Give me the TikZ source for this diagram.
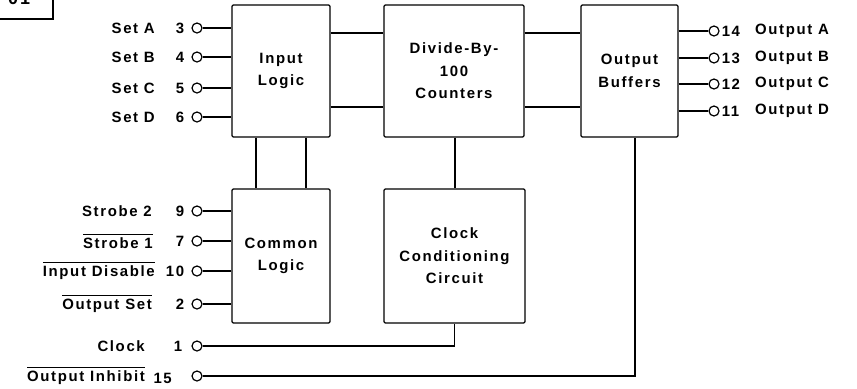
\documentclass[tikz,border=0pt]{standalone}
\usepackage{fontspec}
\setmainfont{Liberation Sans}[LetterSpace=11]
\newcommand\lbfont{\bfseries\fontsize{15}{22.5}\selectfont}
\newcommand\ovl[1]{\setbox0\hbox{#1}\rlap{\rule[14pt]{\wd0}{0.9pt}}\box0}
\begin{document}
\begin{tikzpicture}[x=1bp,y=-1bp,
  blk/.style={draw, line width=1.3bp, rounded corners=1.2bp, font=\lbfont, align=center, inner sep=0pt},
  pin/.style={circle, draw, line width=1.2bp, inner sep=0pt, minimum size=10bp},
  wire/.style={line width=1.3bp},
  lbl/.style={font=\lbfont, inner sep=0pt, anchor=east},
  rlbl/.style={font=\lbfont, inner sep=0pt, anchor=west}]
\useasboundingbox (0,0) rectangle (857,388);
% partial box at top left
\draw[wire] (-5,-5) rectangle (53,19);
\node[font=\bfseries\fontsize{18}{20}\selectfont, inner sep=0pt, anchor=base west] (tag) at (8,4) {01};
% blocks
\node[blk, minimum width=98bp, minimum height=132bp] (IL) at (281,71) {Input\\Logic};
\node[blk, minimum width=140bp, minimum height=132bp] (DV) at (454,71) {Divide-By-\\100\\Counters};
\node[blk, minimum width=97bp, minimum height=132bp] (OB) at (629.5,71) {Output\\Buffers};
\node[blk, minimum width=98bp, minimum height=134bp] (CL) at (281,256) {Common\\Logic};
\node[blk, minimum width=141bp, minimum height=134bp] (CC) at (454.5,256) {Clock\\Conditioning\\Circuit};
% block interconnects
\draw[wire] (IL.east |- 0,33) -- (DV.west |- 0,33);
\draw[wire] (IL.east |- 0,107) -- (DV.west |- 0,107);
\draw[wire] (DV.east |- 0,33) -- (OB.west |- 0,33);
\draw[wire] (DV.east |- 0,107) -- (OB.west |- 0,107);
\draw[wire] (IL.south -| 256,0) -- (CL.north -| 256,0);
\draw[wire] (IL.south -| 306,0) -- (CL.north -| 306,0);
\draw[wire] (DV.south -| 455,0) -- (CC.north -| 455,0);
% left input pins
\foreach \n/\y/\num/\nx/\txt in {pA/28/3/155/Set A, pB/57/4/155/Set B, pC/88/5/155/Set C, pD/117/6/155/Set D}{
  \node[pin] (\n) at (197,\y) {};
  \draw[wire] (\n.east) -- (IL.west |- \n);
  \node[lbl] (\n n) at ([xshift=-7bp]\n.west) {\num};
  \node[lbl] (\n t) at (\nx,\y) {\txt};
}
\foreach \n/\y/\num/\nx/\txt in {pS/211/9/152/Strobe 2, pT/241/7/153/\ovl{Strobe 1}, pI/271/10/155/\ovl{Input Disable}, pO/304/2/152/\ovl{Output Set}}{
  \node[pin] (\n) at (197,\y) {};
  \draw[wire] (\n.east) -- (CL.west |- \n);
  \node[lbl] (\n n) at ([xshift=-7bp]\n.west) {\num};
  \node[lbl] (\n t) at (\nx,\y) {\txt};
}
% clock
\node[pin] (pK) at (197,346) {};
\node[lbl] (pKn) at ([xshift=-9bp]pK.west) {1};
\node[lbl] (pKt) at (145,346) {Clock};
\coordinate (kc) at (CC.south |- pK);
\draw[wire] (pK.east) -- (kc) -- (CC.south);
% output inhibit
\node[pin] (pH) at (197,376) {};
\node[lbl] (pHn) at (172,378) {15};
\node[lbl] (pHt) at (145,376) {\ovl{Output Inhibit}};
\coordinate (hc) at (635,376);
\draw[wire] (pH.east) -- (hc) -- (OB.south -| hc);
% outputs
\foreach \n/\y/\num/\txt in {qA/31/14/Output A, qB/58/13/Output B, qC/84/12/Output C, qD/111/11/Output D}{
  \node[pin] (\n) at (714,\y) {};
  \draw[wire] (OB.east |- \n) -- (\n.west);
  \node[rlbl] (\n n) at ([xshift=2bp]\n.east) {\num};
  \node[rlbl] (\n t) at (755,\y) {\txt};
}
\end{tikzpicture}
\end{document}
